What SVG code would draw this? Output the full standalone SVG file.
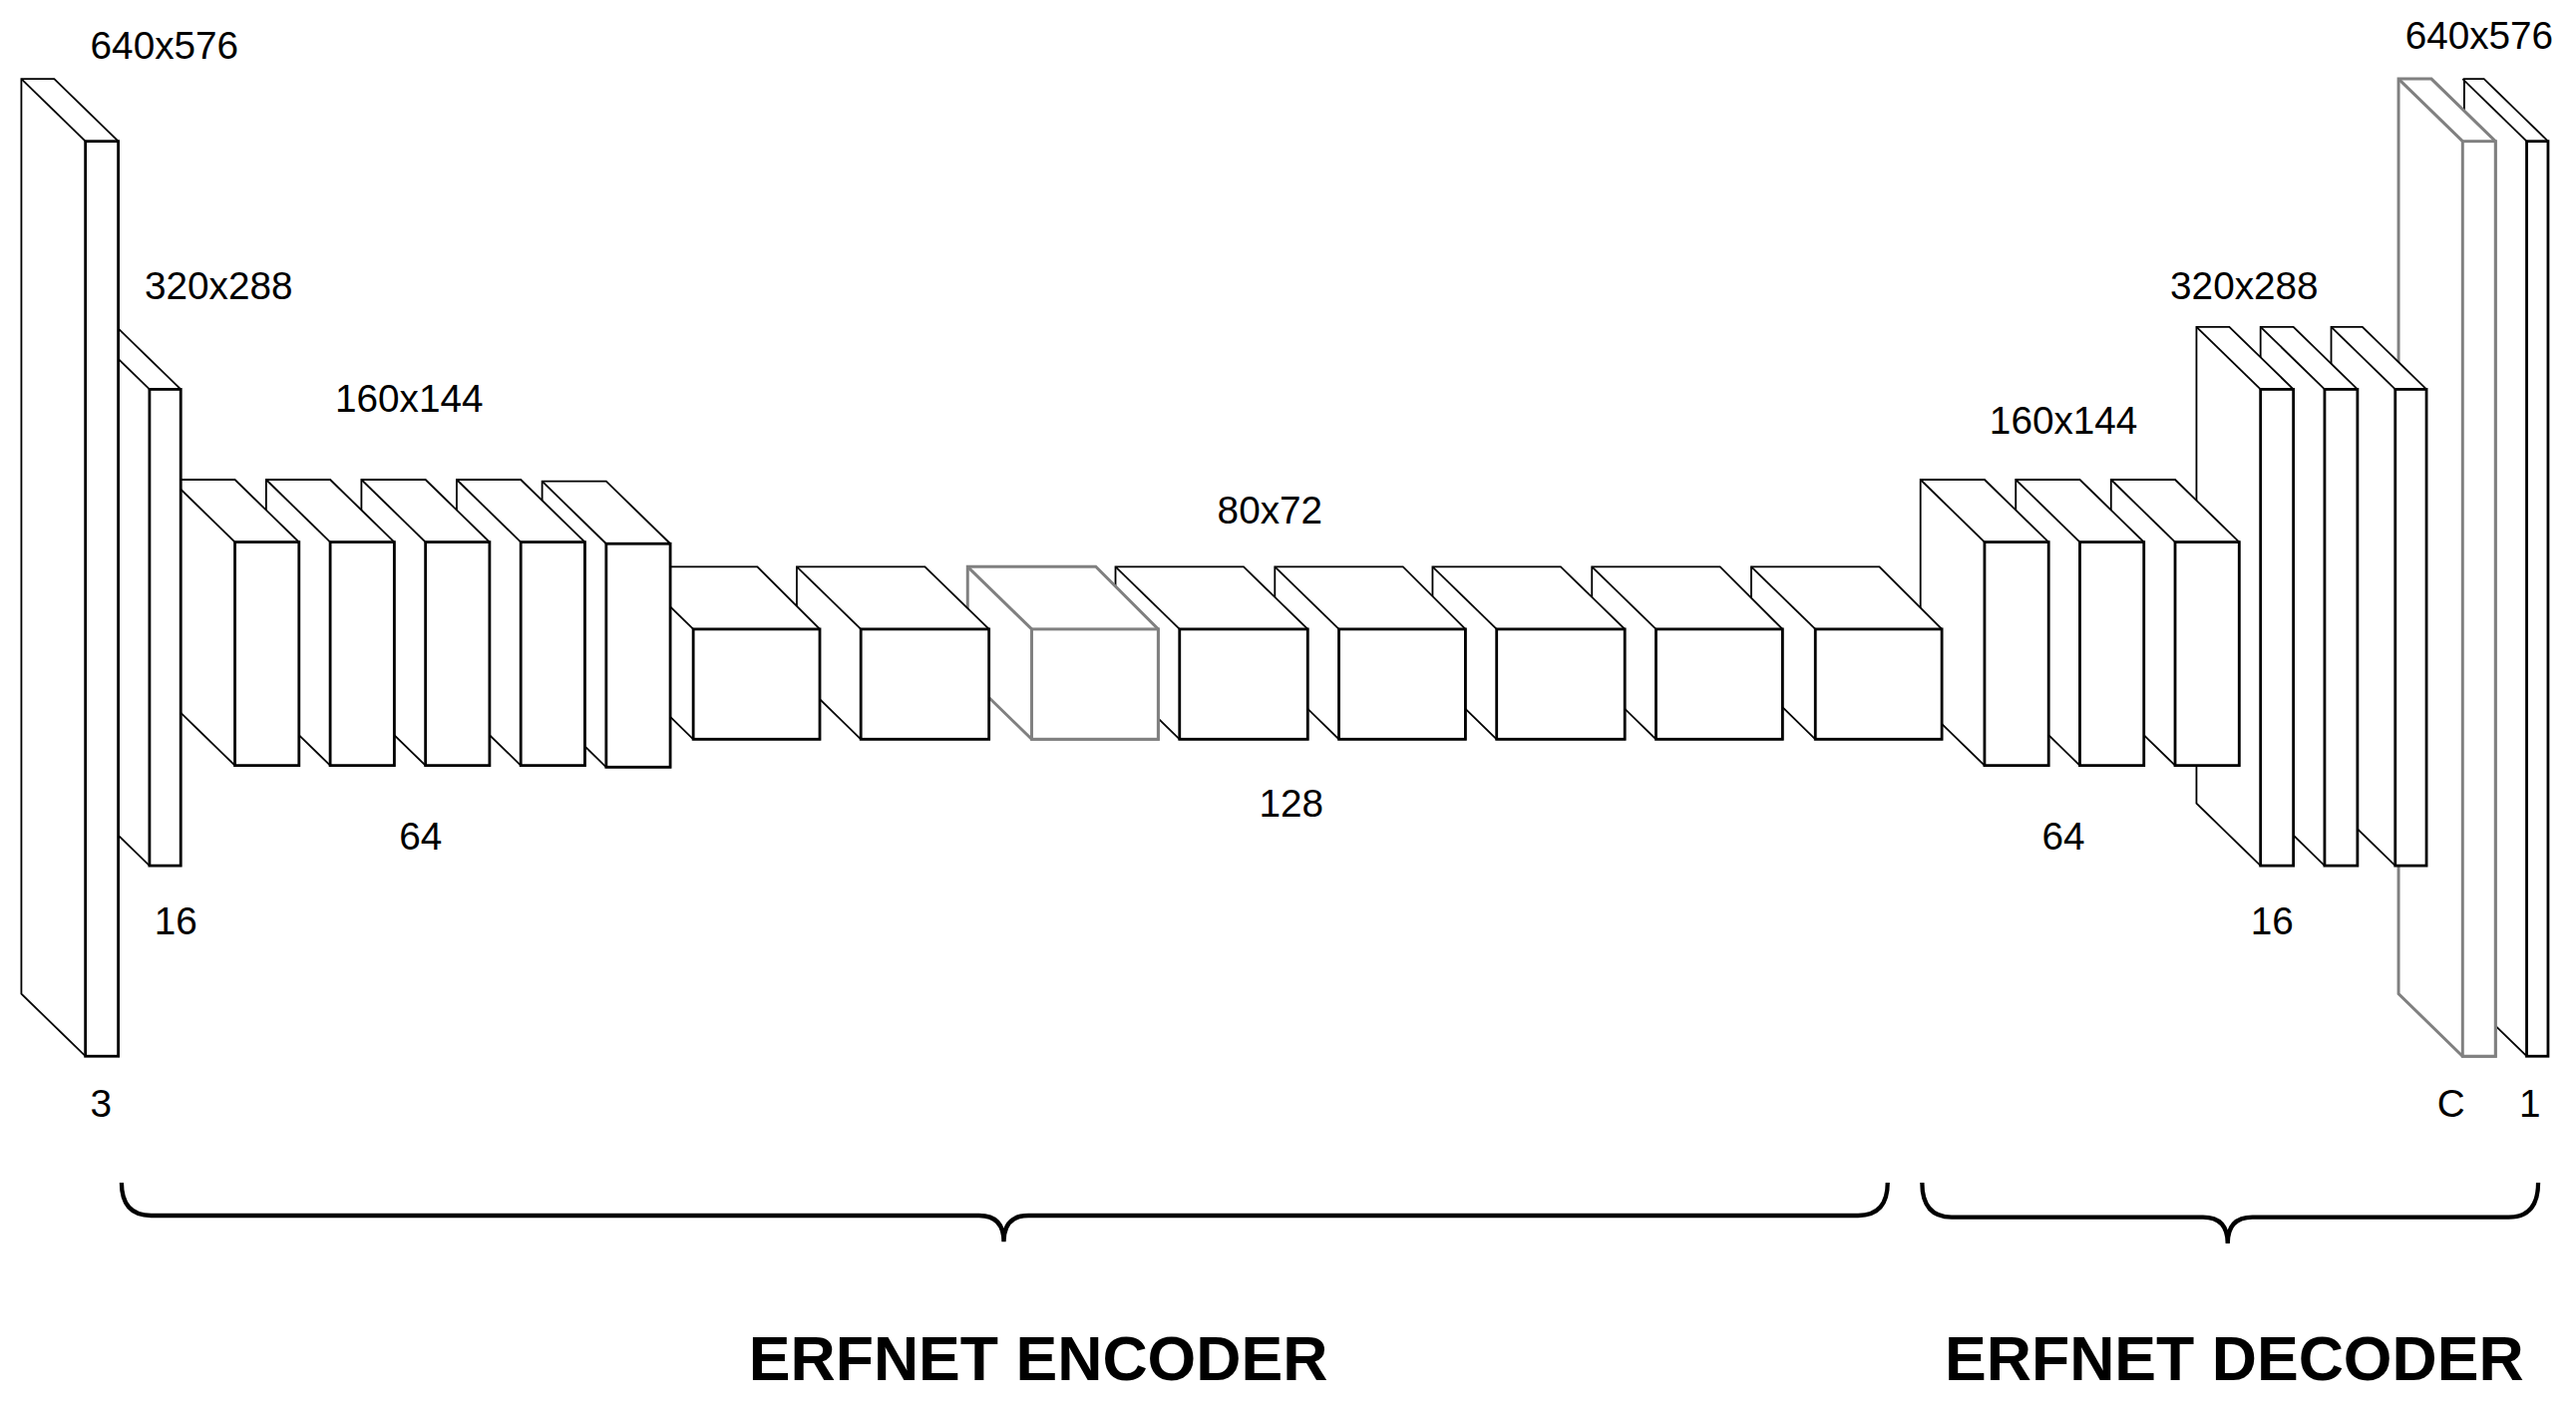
<svg xmlns="http://www.w3.org/2000/svg" width="2583" height="1419" viewBox="0 0 2583 1419">
<style>
.s{fill:#fff;stroke:#000;stroke-width:1.1;stroke-linejoin:miter}
.f{fill:#fff;stroke:#000;stroke-width:1.7}
.d{stroke:#000;stroke-width:1.1}
.g .s,.g .f,.g .d{stroke:#808080;stroke-width:1.8}
text{font-family:"Liberation Sans",Arial,sans-serif;font-size:23.5px;fill:#000}
.big{font-size:38px;font-weight:bold}
.br{fill:none;stroke:#000;stroke-width:2.6}
</style>
<rect width="2583" height="1419" fill="#fff"/>
<g transform="scale(1.6473)">
<g id="out1"><polygon class="s" points="1500,48 1512,48 1551,86 1551,643 1538,643 1499,605"/><line class="d" x1="1499" y1="48" x2="1538" y2="86"/><rect class="f" x="1538" y="86" width="13" height="557"/></g>
<g id="outC" class="g"><polygon class="s" points="1460,48 1480,48 1519,86 1519,643 1499,643 1460,605"/><line class="d" x1="1460" y1="48" x2="1499" y2="86"/><rect class="f" x="1499" y="86" width="20" height="557"/></g>
<g id="d16c"><polygon class="s" points="1419,199 1438,199 1477,237 1477,527 1458,527 1419,489"/><line class="d" x1="1419" y1="199" x2="1458" y2="237"/><rect class="f" x="1458" y="237" width="19" height="290"/></g>
<g id="d16b"><polygon class="s" points="1376,199 1396,199 1435,237 1435,527 1415,527 1376,489"/><line class="d" x1="1376" y1="199" x2="1415" y2="237"/><rect class="f" x="1415" y="237" width="20" height="290"/></g>
<g id="d16a"><polygon class="s" points="1337,199 1357,199 1396,237 1396,527 1376,527 1337,489"/><line class="d" x1="1337" y1="199" x2="1376" y2="237"/><rect class="f" x="1376" y="237" width="20" height="290"/></g>
<g id="d64c"><polygon class="s" points="1285,292 1324,292 1363,330 1363,466 1324,466 1285,428"/><line class="d" x1="1285" y1="292" x2="1324" y2="330"/><rect class="f" x="1324" y="330" width="39" height="136"/></g>
<g id="d64b"><polygon class="s" points="1227,292 1266,292 1305,330 1305,466 1266,466 1227,428"/><line class="d" x1="1227" y1="292" x2="1266" y2="330"/><rect class="f" x="1266" y="330" width="39" height="136"/></g>
<g id="d64a"><polygon class="s" points="1169,292 1208,292 1247,330 1247,466 1208,466 1169,428"/><line class="d" x1="1169" y1="292" x2="1208" y2="330"/><rect class="f" x="1208" y="330" width="39" height="136"/></g>
<g id="e128h"><polygon class="s" points="1066,345 1144,345 1182,383 1182,450 1105,450 1066,412"/><line class="d" x1="1066" y1="345" x2="1105" y2="383"/><rect class="f" x="1105" y="383" width="77" height="67"/></g>
<g id="e128g"><polygon class="s" points="969,345 1047,345 1085,383 1085,450 1008,450 969,412"/><line class="d" x1="969" y1="345" x2="1008" y2="383"/><rect class="f" x="1008" y="383" width="77" height="67"/></g>
<g id="e128f"><polygon class="s" points="872,345 950,345 989,383 989,450 911,450 872,412"/><line class="d" x1="872" y1="345" x2="911" y2="383"/><rect class="f" x="911" y="383" width="78" height="67"/></g>
<g id="e128e"><polygon class="s" points="776,345 854,345 892,383 892,450 815,450 776,412"/><line class="d" x1="776" y1="345" x2="815" y2="383"/><rect class="f" x="815" y="383" width="77" height="67"/></g>
<g id="e128d"><polygon class="s" points="679,345 757,345 796,383 796,450 718,450 679,412"/><line class="d" x1="679" y1="345" x2="718" y2="383"/><rect class="f" x="718" y="383" width="78" height="67"/></g>
<g id="e128c" class="g"><polygon class="s" points="589,345 667,345 705,383 705,450 628,450 589,412"/><line class="d" x1="589" y1="345" x2="628" y2="383"/><rect class="f" x="628" y="383" width="77" height="67"/></g>
<g id="e128b"><polygon class="s" points="485,345 563,345 602,383 602,450 524,450 485,412"/><line class="d" x1="485" y1="345" x2="524" y2="383"/><rect class="f" x="524" y="383" width="78" height="67"/></g>
<g id="e128a"><polygon class="s" points="383,345 461,345 499,383 499,450 422,450 383,412"/><line class="d" x1="383" y1="345" x2="422" y2="383"/><rect class="f" x="422" y="383" width="77" height="67"/></g>
<g id="e64e"><polygon class="s" points="330,293 369,293 408,331 408,467 369,467 330,429"/><line class="d" x1="330" y1="293" x2="369" y2="331"/><rect class="f" x="369" y="331" width="39" height="136"/></g>
<g id="e64d"><polygon class="s" points="278,292 317,292 356,330 356,466 317,466 278,428"/><line class="d" x1="278" y1="292" x2="317" y2="330"/><rect class="f" x="317" y="330" width="39" height="136"/></g>
<g id="e64c"><polygon class="s" points="220,292 259,292 298,330 298,466 259,466 220,428"/><line class="d" x1="220" y1="292" x2="259" y2="330"/><rect class="f" x="259" y="330" width="39" height="136"/></g>
<g id="e64b"><polygon class="s" points="162,292 201,292 240,330 240,466 201,466 162,428"/><line class="d" x1="162" y1="292" x2="201" y2="330"/><rect class="f" x="201" y="330" width="39" height="136"/></g>
<g id="e64a"><polygon class="s" points="104,292 143,292 182,330 182,466 143,466 104,428"/><line class="d" x1="104" y1="292" x2="143" y2="330"/><rect class="f" x="143" y="330" width="39" height="136"/></g>
<g id="e16"><polygon class="s" points="52,199 71,199 110,237 110,527 91,527 52,489"/><line class="d" x1="52" y1="199" x2="91" y2="237"/><rect class="f" x="91" y="237" width="19" height="290"/></g>
<g id="in3"><polygon class="s" points="13,48 33,48 72,86 72,643 52,643 13,605"/><line class="d" x1="13" y1="48" x2="52" y2="86"/><rect class="f" x="52" y="86" width="20" height="557"/></g>
<g id="labels">
<text x="55" y="36">640x576</text>
<text x="88" y="182">320x288</text>
<text x="204" y="251">160x144</text>
<text x="256" y="517" text-anchor="middle">64</text>
<text x="94" y="569">16</text>
<text x="55" y="680">3</text>
<text x="773" y="319" text-anchor="middle">80x72</text>
<text x="786" y="497" text-anchor="middle">128</text>
<text x="1211" y="264">160x144</text>
<text x="1321" y="182">320x288</text>
<text x="1464" y="30">640x576</text>
<text x="1256" y="517" text-anchor="middle">64</text>
<text x="1383" y="569" text-anchor="middle">16</text>
<text x="1492" y="680" text-anchor="middle">C</text>
<text x="1540" y="680" text-anchor="middle">1</text>
<text class="big" x="632" y="840" text-anchor="middle">ERFNET ENCODER</text>
<text class="big" x="1360" y="840" text-anchor="middle">ERFNET DECODER</text>
</g>
<g id="connectors">
<path class="br" d="M74,720 Q74,740 92,740 L596,740 Q611,740 611,756 Q611,740 626,740 L1131,740 Q1149,740 1149,720"/>
<path class="br" d="M1170,720 Q1170,741 1188,741 L1341,741 Q1356,741 1356,757 Q1356,741 1371,741 L1527,741 Q1545,741 1545,720"/>
</g>
</g>
</svg>
